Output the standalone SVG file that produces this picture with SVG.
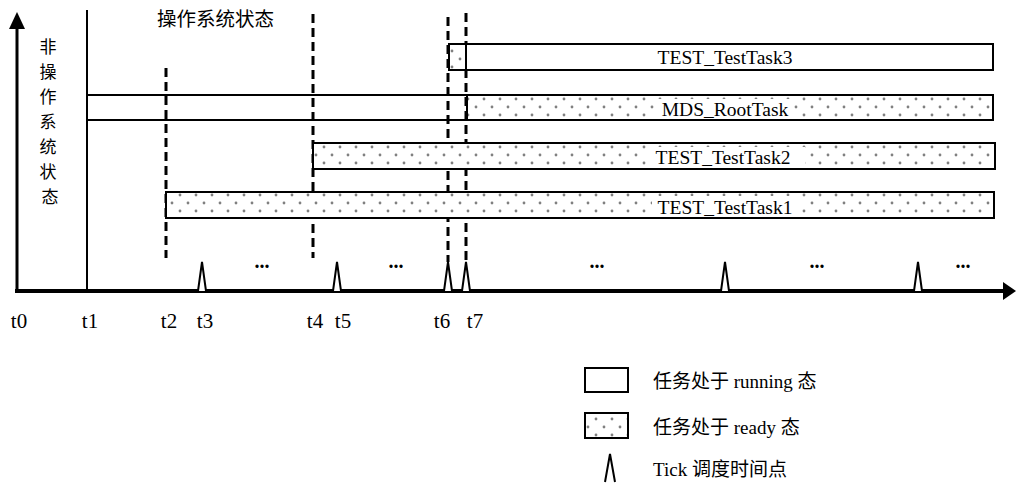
<svg xmlns="http://www.w3.org/2000/svg" width="1016" height="487" viewBox="0 0 1016 487">
<defs>
<pattern id="dots" width="16" height="16" patternUnits="userSpaceOnUse">
<rect width="16" height="16" fill="#fff"/>
<circle cx="4" cy="3" r="1.4" fill="#808080"/>
<circle cx="12" cy="11" r="1.4" fill="#808080"/>
</pattern>
<style>
.run{fill:#fff;stroke:#000;stroke-width:2}
.rdy{fill:url(#dots);stroke:#000;stroke-width:2}
.lbl{font-family:"Liberation Serif","Noto Sans CJK SC",serif;font-size:19.5px;fill:#000;text-anchor:middle}
.lblbg{fill:#fff}
.t{font-family:"Liberation Serif","Noto Sans CJK SC",serif;font-size:21px;fill:#000;text-anchor:middle}
.cjk{font-family:"Liberation Serif","Noto Sans CJK SC",serif;font-size:17px;fill:#000}
.leg{font-family:"Liberation Serif","Noto Sans CJK SC",serif;font-size:19px;fill:#000}
.dash{stroke:#000;stroke-width:3;stroke-dasharray:9,5;fill:none}
.tick{fill:#fff;stroke:#000;stroke-width:2;stroke-linejoin:miter}
.dots{font-family:"Liberation Serif",serif;font-size:20px;font-weight:bold;fill:#000;text-anchor:middle}
</style>
</defs>
<rect width="1016" height="487" fill="#fff"/>

<g id="connectors">
<line x1="17" y1="291" x2="17" y2="28" stroke="#000" stroke-width="3"/>
<path d="M9,29 L17,12 L25,29 z" fill="#000"/>
<line x1="15" y1="291" x2="1003" y2="291" stroke="#000" stroke-width="4"/>
<path d="M1003,282 L1016,291 L1003,300 z" fill="#000"/>
<line x1="87" y1="10" x2="87" y2="291" stroke="#000" stroke-width="2"/>
<line class="dash" x1="166" y1="68" x2="166" y2="258"/>
<line class="dash" x1="313" y1="14" x2="313" y2="258"/>
<line class="dash" x1="448" y1="17" x2="448" y2="262"/>
<line class="dash" x1="466" y1="13" x2="466" y2="262"/>
</g>

<g id="task-root">
<line x1="87" y1="95" x2="467" y2="95" stroke="#000" stroke-width="2"/>
<line x1="87" y1="120" x2="467" y2="120" stroke="#000" stroke-width="2"/>
<rect class="rdy" x="467" y="95" width="526" height="25"/>
<rect class="lblbg" x="657" y="99" width="137" height="18"/>
<text class="lbl" x="725" y="116">MDS_RootTask</text>
</g>

<g id="task3">
<rect class="rdy" x="449" y="44" width="17" height="26"/>
<rect class="run" x="466" y="44" width="527" height="26"/>
<text class="lbl" x="725" y="64">TEST_TestTask3</text>
</g>

<g id="task2">
<rect class="rdy" x="313" y="143" width="682" height="26"/>
<rect class="lblbg" x="647" y="147" width="158" height="18"/>
<text class="lbl" x="723" y="164">TEST_TestTask2</text>
</g>

<g id="task1">
<rect class="rdy" x="166" y="192" width="828" height="26"/>
<rect class="lblbg" x="652" y="196" width="146" height="18"/>
<text class="lbl" x="725" y="214">TEST_TestTask1</text>
</g>

<g id="ticks">
<path class="tick" d="M198,291 L202,262 L206,291"/>
<path class="tick" d="M333,291 L337,262 L341,291"/>
<path class="tick" d="M444,291 L448,262 L452,291"/>
<path class="tick" d="M462,291 L466,262 L470,291"/>
<path class="tick" d="M721,291 L725,262 L729,291"/>
<path class="tick" d="M914,291 L918,262 L922,291"/>
<text class="dots" x="262" y="268">...</text>
<text class="dots" x="396" y="268">...</text>
<text class="dots" x="597" y="268">...</text>
<text class="dots" x="817" y="268">...</text>
<text class="dots" x="963" y="268">...</text>
</g>

<g id="time-labels">
<text class="t" x="19" y="328">t0</text>
<text class="t" x="90" y="328">t1</text>
<text class="t" x="169" y="328">t2</text>
<text class="t" x="205" y="328">t3</text>
<text class="t" x="315" y="328">t4</text>
<text class="t" x="343" y="328">t5</text>
<text class="t" x="442" y="328">t6</text>
<text class="t" x="475" y="328">t7</text>
</g>

<g id="state-labels">
<text class="cjk" x="157" y="26" style="font-size:19.5px">操作系统状态</text>
<text class="cjk" style="text-anchor:middle">
<tspan x="50" y="53">非</tspan>
<tspan x="50" y="78">操</tspan>
<tspan x="50" y="103">作</tspan>
<tspan x="50" y="128">系</tspan>
<tspan x="50" y="153">统</tspan>
<tspan x="50" y="178">状</tspan>
<tspan x="50" y="203">态</tspan>
</text>
</g>

<g id="legend">
<rect class="run" x="585" y="368" width="43" height="24"/>
<text class="leg" x="653" y="388">任务处于 running 态</text>
<rect class="rdy" x="585" y="413" width="43" height="25"/>
<text class="leg" x="653" y="434">任务处于 ready 态</text>
<path class="tick" d="M605,482 L610,454 L615,482"/>
<text class="leg" x="653" y="476">Tick 调度时间点</text>
</g>
</svg>
